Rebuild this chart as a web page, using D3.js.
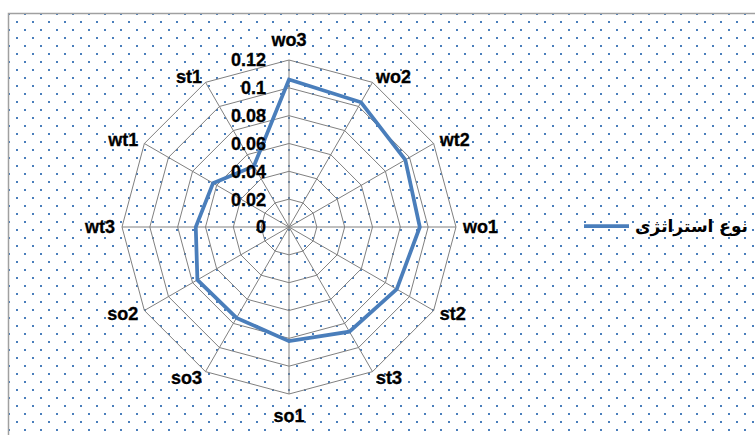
<!DOCTYPE html>
<html><head><meta charset="utf-8">
<script src="https://cdn.jsdelivr.net/npm/d3@7"></script>
<style>html,body{margin:0;padding:0;background:#fff;}svg{display:block;}</style>
</head><body>
<svg id="chart" width="755" height="435"></svg>
<script>
const categories = ["wo3","wo2","wt2","wo1","st2","st3","so1","so3","so2","wt3","wt1","st1"];
const seriesName = "نوع استراتژی";
const values = [0.106, 0.1035, 0.0965, 0.094, 0.0894, 0.0868, 0.082, 0.0754, 0.076, 0.067, 0.063, 0.0505];
const tickValues = [0, 0.02, 0.04, 0.06, 0.08, 0.1, 0.12];
const tickLabels = ["0", "0.02", "0.04", "0.06", "0.08", "0.1", "0.12"];

const svg = d3.select("#chart");
const cx = 289, cy = 227, R = 167;
const blue = "#4a7ebb";
const font = "'Liberation Sans', Arial, sans-serif";

// background pattern
const defs = svg.append("defs");
const pat = defs.append("pattern").attr("id","dots").attr("patternUnits","userSpaceOnUse")
  .attr("x",8).attr("y",13).attr("width",16).attr("height",16);
pat.append("rect").attr("x",0).attr("y",0).attr("width",2).attr("height",2).attr("fill",blue);
pat.append("rect").attr("x",8).attr("y",8).attr("width",2).attr("height",2).attr("fill",blue);
svg.append("rect").attr("x",8.5).attr("y",13.5).attr("width",800).attr("height",500)
  .attr("fill","url(#dots)").attr("stroke","#a0a0a0").attr("stroke-width",1.5);

const r = d3.scaleLinear().domain([0, 0.12]).range([0, R]);
const ang = d3.scalePoint().domain(categories).range([0, 2*Math.PI*(categories.length-1)/categories.length]);
const pt = (c, v) => [cx + r(v)*Math.sin(ang(c)), cy - r(v)*Math.cos(ang(c))];

const g = svg.append("g");
// rings
tickValues.slice(1).forEach(t => {
  g.append("path").attr("d", d3.line()(categories.map(c => pt(c, t))) + "Z")
    .attr("fill","none").attr("stroke","#808080").attr("stroke-width",1);
});
// spokes
categories.forEach(c => {
  const p = pt(c, 0.12);
  g.append("line").attr("x1",cx).attr("y1",cy).attr("x2",p[0]).attr("y2",p[1])
    .attr("stroke","#808080").attr("stroke-width",1);
});

// data line
g.append("path").attr("d", d3.line()(categories.map((c,i) => pt(c, values[i]))) + "Z")
  .attr("fill","none").attr("stroke",blue).attr("stroke-width",3.75).attr("stroke-linejoin","miter");

const styleText = sel => sel.attr("font-family",font).attr("font-weight","bold")
  .attr("font-size",18).attr("fill","#000").attr("stroke","#000").attr("stroke-width",0.3);

// tick labels
tickValues.forEach((t,i) => {
  svg.append("text").attr("x", cx - 23).attr("y", cy - r(t)).attr("dy","0.36em")
    .attr("text-anchor","end").call(styleText).text(tickLabels[i]);
});

// category labels
categories.forEach(c => {
  const a = ang(c), s = Math.sin(a), co = Math.cos(a);
  let x, y, anchor;
  if (Math.abs(s) < 0.01) {
    x = cx; anchor = "middle";
    y = co > 0 ? cy - R - 20 : cy + R + 22;
  } else {
    x = cx + (R + 7)*s; y = cy - (R + 7)*co;
    anchor = s > 0 ? "start" : "end";
  }
  svg.append("text").attr("x", x).attr("y", y).attr("dy","0.36em")
    .attr("text-anchor", anchor).call(styleText).text(c);
});

// legend
svg.append("line").attr("x1",584).attr("y1",226).attr("x2",629).attr("y2",226)
  .attr("stroke",blue).attr("stroke-width",3.75);
svg.append("text").attr("x",748).attr("y",226).attr("dy","0.36em").attr("text-anchor","end")
  .attr("font-family","'DejaVu Sans', sans-serif").attr("font-weight","bold").attr("font-size",17)
  .attr("fill","#000").text(seriesName);
</script>
</body></html>
